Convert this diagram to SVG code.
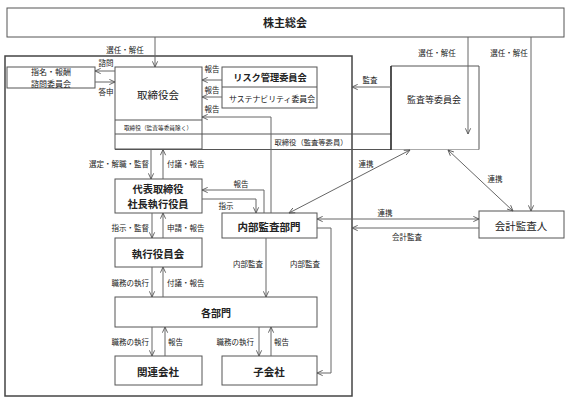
<svg xmlns="http://www.w3.org/2000/svg" width="573" height="405" viewBox="0 0 573 405">
<defs>
<marker id="a" viewBox="0 0 8 8" refX="7.5" refY="4" markerWidth="7" markerHeight="7" markerUnits="userSpaceOnUse" orient="auto-start-reverse">
<path d="M1,1 L7.5,4 L1,7" fill="none" stroke="#555" stroke-width="1"/>
</marker>
<style>
text{font-family:"Noto Sans CJK JP","Noto Sans",sans-serif;fill:#222;text-anchor:middle;dominant-baseline:central}
.box{fill:#fff;stroke:#555;stroke-width:1}
.c{fill:none;stroke:#666;stroke-width:1}
.e{marker-end:url(#a)}
.b{marker-start:url(#a);marker-end:url(#a)}
.s{font-size:7.5px}
.l{text-anchor:start}
.r{text-anchor:end}
.bd{font-weight:bold}
</style>
</defs>
<rect width="573" height="405" fill="#fff"/>
<g id="outer"><rect x="5" y="56" width="347" height="340" fill="none" stroke="#444" stroke-width="1.5"/></g>
<g id="shareholders"><rect class="box" x="7" y="8" width="557" height="29"/><text x="285" y="22" font-size="11" class="bd">株主総会</text></g>
<g id="nomination"><rect class="box" x="7" y="67" width="88" height="21"/><text x="51" y="71.5" font-size="8">指名・報酬</text><text x="51" y="83" font-size="8">諮問委員会</text></g>
<g id="board"><rect class="box" x="115" y="67" width="87" height="82"/><line x1="115" y1="120" x2="202" y2="120" stroke="#555"/><text x="158" y="94" font-size="10.5">取締役会</text><text x="158" y="127" font-size="5.7">取締役（監査等委員除く）</text></g>
<g id="band"><path d="M115,134 H479 M115,149.5 H479" stroke="#555" fill="none"/><text x="311" y="142" font-size="7.3">取締役（監査等委員）</text></g>
<g id="risk"><rect class="box" x="222" y="67" width="95" height="41"/><line x1="222" y1="87" x2="317" y2="87" stroke="#555"/><text x="270" y="77" font-size="9.2" class="bd">リスク管理委員会</text><text x="272" y="98" font-size="7.9">サステナビリティ委員会</text></g>
<g id="auditcommittee"><path d="M391,149.5 V66 H479 V149.5" fill="#fff" stroke="#555"/><line x1="391" y1="66" x2="391" y2="150" stroke="#222" stroke-width="1.3"/><text x="434" y="99" font-size="9">監査等委員会</text></g>
<g id="president"><rect class="box" x="115" y="179" width="87" height="34"/><text x="158" y="188.5" font-size="10.2" class="bd">代表取締役</text><text x="158" y="203.5" font-size="10.2" class="bd">社長執行役員</text></g>
<g id="execcommittee"><rect class="box" x="115" y="238" width="87" height="29"/><text x="158" y="253" font-size="10.5" class="bd">執行役員会</text></g>
<g id="internalaudit"><rect class="box" x="222" y="213" width="95" height="25"/><text x="269" y="226" font-size="10.5" class="bd">内部監査部門</text></g>
<g id="auditor"><rect class="box" x="479" y="211" width="85" height="27"/><text x="521" y="225" font-size="10.5">会計監査人</text></g>
<g id="departments"><rect class="box" x="115" y="297" width="202" height="30"/><text x="216" y="312" font-size="10" class="bd">各部門</text></g>
<g id="affiliates"><rect class="box" x="115" y="356" width="87" height="29"/><text x="158" y="371" font-size="10.5" class="bd">関連会社</text></g>
<g id="subsidiaries"><rect class="box" x="222" y="356" width="95" height="29"/><text x="269" y="371" font-size="10.5" class="bd">子会社</text></g>
<g id="connectors">
<path class="c e" d="M155,37 V67"/>
<path class="c e" d="M115,71 H95"/>
<path class="c e" d="M95,82 H115"/>
<path class="c e" d="M222,80 H202"/>
<path class="c e" d="M222,97 H202"/>
<path class="c e" d="M271,213 V117 H202"/>
<path class="c e" d="M391,87 H352"/>
<path class="c e" d="M468,37 V134"/>
<path class="c e" d="M531,37 V211"/>
<path class="c e" d="M151,149.5 V179"/>
<path class="c e" d="M163,179 V149.5"/>
<path class="c e" d="M264,213 V190 H202"/>
<path class="c e" d="M202,199 H256 V213"/>
<path class="c e" d="M152,213 V238"/>
<path class="c e" d="M163,238 V213"/>
<path class="c e" d="M152,267 V297"/>
<path class="c e" d="M163,297 V267"/>
<path class="c e" d="M266,238 V297"/>
<path class="c e" d="M317,228 H331 V373 H317"/>
<path class="c e" d="M152,327 V356"/>
<path class="c e" d="M165,356 V327"/>
<path class="c e" d="M259,327 V356"/>
<path class="c e" d="M271,356 V327"/>
<path class="c b" d="M410,150 L289,213"/>
<path class="c b" d="M448,150 L513,211"/>
<path class="c b" d="M317,219 H479"/>
<path class="c e" d="M479,228 H352"/>
</g>
<g id="labels" class="s">
<text class="s" x="125" y="49">選任・解任</text>
<text class="s" x="437" y="52">選任・解任</text>
<text class="s" x="509" y="52">選任・解任</text>
<text class="s" x="106" y="62">諮問</text>
<text class="s" x="106" y="91">答申</text>
<text class="s" x="212" y="68">報告</text>
<text class="s" x="212" y="89">報告</text>
<text class="s" x="212" y="108">報告</text>
<text class="s" x="370" y="79">監査</text>
<text class="s r" x="149" y="163">選定・解職・監督</text>
<text class="s l" x="167" y="163">付議・報告</text>
<text class="s" x="241" y="183">報告</text>
<text class="s" x="226" y="205">指示</text>
<text class="s r" x="149" y="227">指示・監督</text>
<text class="s l" x="167" y="227">申請・報告</text>
<text class="s r" x="149" y="282">職務の執行</text>
<text class="s l" x="167" y="282">付議・報告</text>
<text class="s" x="248" y="263">内部監査</text>
<text class="s" x="305" y="263">内部監査</text>
<text class="s r" x="149" y="341">職務の執行</text>
<text class="s l" x="168" y="341">報告</text>
<text class="s r" x="254" y="341">職務の執行</text>
<text class="s l" x="274" y="341">報告</text>
<text class="s" x="366" y="163">連携</text>
<text class="s" x="495" y="178">連携</text>
<text class="s" x="385" y="212">連携</text>
<text class="s" x="407" y="236">会計監査</text>
</g>
</svg>
